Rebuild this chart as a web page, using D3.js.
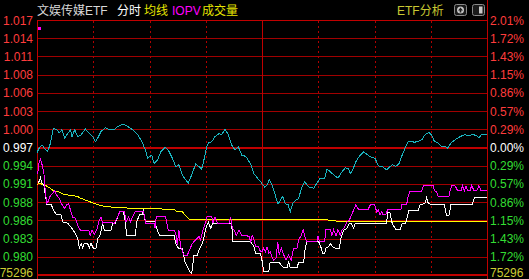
<!DOCTYPE html>
<html>
<head>
<meta charset="utf-8">
<script src="https://cdn.jsdelivr.net/npm/d3@7"></script>
<style>
  body { margin: 0; background: #000; }
  svg { display: block; }
</style>
</head>
<body>
<div id="chart"></div>
<script>
// previous close and the +/- range shown on the right axis
var prevClose = 0.997;
var maxPct = 2.01;
var volumeLabel = "75296";

var priceLabels = ["1.017", "1.014", "1.011", "1.008", "1.006", "1.003", "1.000",
                   "0.997", "0.994", "0.991", "0.988", "0.986", "0.983", "0.980"];
var pctLabels = ["2.01%", "1.72%", "1.43%", "1.15%", "0.86%", "0.57%", "0.29%",
                 "0.00%", "0.29%", "0.57%", "0.86%", "1.15%", "1.43%", "1.72%"];

// [minute, value] - minute 0..240 of the trading day
var refLine = [[0,0.9962],[1.2,0.9969],[2.7,0.9974],[3.9,0.9969],[5.7,0.9964],[6.9,0.9974],[8.7,1.0000],[10.5,0.9998],[11.9,0.9993],[13.3,0.9998],[14.8,0.9985],[16.4,0.9992],[17.8,0.9998],[18.7,0.9987],[20.1,0.9998],[21.7,0.9987],[23.5,0.9990],[25.8,0.9999],[27.9,0.9992],[29.7,0.9987],[31.1,0.9979],[32.4,0.9985],[34.1,0.9995],[36.4,1.0001],[38.6,0.9998],[41.2,0.9998],[43,1.0003],[46,1.0007],[48.4,1.0003],[51,0.9998],[53.7,0.9990],[56,0.9979],[57.8,0.9966],[59,0.9953],[61.2,0.9958],[62.4,0.9945],[64.2,0.9950],[66,0.9963],[68.3,0.9970],[70,0.9966],[72.2,0.9953],[74,0.9940],[75.7,0.9943],[77.5,0.9927],[79.3,0.9919],[80.7,0.9914],[82.5,0.9927],[84.6,0.9944],[86.4,0.9940],[87.8,0.9936],[89,0.9950],[90.3,0.9969],[91.4,0.9977],[93.2,0.9979],[94.9,0.9987],[97.1,0.9992],[98.5,0.9990],[100.3,0.9999],[102,0.9990],[103.8,0.9974],[105.6,0.9966],[107.4,0.9971],[109.2,0.9958],[111.3,0.9956],[112.7,0.9950],[114,0.9943],[115.7,0.9929],[117.5,0.9922],[119.3,0.9916],[120.5,0.9911],[121.4,0.9908],[122.7,0.9911],[123.9,0.9919],[125.3,0.9911],[127.1,0.9895],[128.5,0.9881],[129.8,0.9887],[131,0.9893],[132.4,0.9882],[133.9,0.9880],[135.1,0.9869],[136.4,0.9882],[137.8,0.9887],[139.6,0.9890],[141,0.9906],[142.8,0.9916],[144.9,0.9908],[147.6,0.9906],[149.3,0.9914],[151.1,0.9922],[153.4,0.9922],[154.7,0.9936],[156.4,0.9932],[158.2,0.9927],[160.5,0.9922],[162.7,0.9932],[164.4,0.9938],[166.2,0.9937],[167.1,0.9929],[168.4,0.9935],[170.1,0.9948],[171.9,0.9956],[174.2,0.9963],[176.5,0.9958],[178.7,0.9954],[180.3,0.9953],[182,0.9941],[184.2,0.9940],[186.5,0.9935],[188.3,0.9940],[189.5,0.9943],[191.3,0.9940],[193.1,0.9945],[194.5,0.9956],[196.3,0.9969],[198,0.9979],[199.8,0.9980],[201.2,0.9978],[203.4,0.9980],[205.2,0.9982],[206.9,0.9990],[209.1,0.9994],[210.5,0.9989],[211.9,0.9980],[214,0.9977],[215.8,0.9971],[218,0.9971],[219,0.9969],[220.8,0.9977],[222.9,0.9982],[225.6,0.9987],[227.9,0.9990],[230,0.9989],[232.7,0.9990],[234.5,0.9989],[235.7,0.9985],[237.1,0.9991],[239.8,0.9991]];

var iopvLine = [[0.4,0.9929],[1.2,0.9948],[1.8,0.9952],[2.7,0.9943],[3.7,0.9929],[4.4,0.9901],[5.3,0.9882],[6.2,0.9887],[6.9,0.9893],[8.4,0.9898],[9.4,0.9902],[10.5,0.9895],[11.9,0.9890],[13,0.9882],[14.6,0.9874],[15.8,0.9880],[16.9,0.9882],[17.8,0.9872],[19,0.9860],[20.4,0.9859],[21.7,0.9848],[23.1,0.9840],[27.6,0.9840],[28.3,0.9832],[29.3,0.9840],[30.6,0.9834],[31.8,0.9840],[32.9,0.9853],[34.1,0.9861],[35,0.9851],[36.8,0.9853],[41.2,0.9851],[43,0.9861],[44.3,0.9870],[46.6,0.9870],[47.5,0.9853],[48.9,0.9861],[49.8,0.9853],[51,0.9861],[52.4,0.9870],[56.7,0.9870],[58.1,0.9851],[62.4,0.9851],[62.9,0.9843],[63.6,0.9861],[68.6,0.9861],[70,0.9840],[73.1,0.9840],[74,0.9835],[74.8,0.9817],[75.7,0.9840],[76.6,0.9814],[78.4,0.9801],[80.2,0.9801],[81.4,0.9809],[82.8,0.9819],[84.6,0.9825],[86.4,0.9830],[87.3,0.9825],[88.5,0.9840],[90,0.9853],[90.8,0.9862],[93.2,0.9862],[93.9,0.9851],[94.9,0.9861],[96.2,0.9851],[102.4,0.9851],[103.3,0.9861],[104.2,0.9843],[105.1,0.9840],[106.3,0.9832],[107.7,0.9840],[109.2,0.9832],[111.3,0.9832],[113.1,0.9830],[114,0.9822],[114.8,0.9832],[115.7,0.9825],[116.6,0.9814],[118,0.9814],[119.3,0.9806],[120,0.9806],[120.9,0.9812],[121.8,0.9806],[122.7,0.9814],[123.6,0.9804],[124.4,0.9806],[125.3,0.9798],[126.2,0.9793],[127.5,0.9796],[128.4,0.9822],[129.2,0.9801],[130.3,0.9812],[131.6,0.9801],[132.8,0.9793],[134.2,0.9801],[135.6,0.9793],[136.9,0.9812],[138.7,0.9812],[139.6,0.9825],[141,0.9832],[141.9,0.9841],[143.1,0.9827],[144,0.9822],[149.3,0.9822],[149.9,0.9831],[150.6,0.9822],[153.4,0.9822],[154.1,0.9841],[156.4,0.9841],[157.3,0.9832],[158.2,0.9841],[159.5,0.9831],[160.5,0.9841],[161.8,0.9832],[162.7,0.9840],[164.1,0.9845],[165.3,0.9853],[166.6,0.9856],[167.6,0.9863],[168.9,0.9872],[170.1,0.9880],[171.6,0.9872],[176.5,0.9872],[177.8,0.9880],[180.1,0.9880],[180.3,0.9877],[181.2,0.9869],[182,0.9872],[182.9,0.9864],[183.8,0.9869],[184.7,0.9864],[186,0.9864],[187,0.9872],[194.1,0.9872],[194.5,0.9881],[197.2,0.9881],[197.7,0.9890],[198.9,0.9901],[205.2,0.9901],[206,0.9910],[211.4,0.9910],[211.9,0.9902],[213.2,0.9900],[214,0.9893],[219.7,0.9893],[220.3,0.9902],[221.2,0.9910],[222.9,0.9910],[224.4,0.9902],[226.1,0.9902],[227,0.9910],[227.9,0.9902],[228.8,0.9910],[229.7,0.9902],[230.9,0.9902],[231.8,0.9910],[233.1,0.9902],[234.5,0.9902],[235.7,0.9910],[236.8,0.9902],[239.8,0.9902]];

var priceLine = [[0.4,0.9914],[1.2,0.9917],[1.8,0.9923],[2.7,0.9914],[3.7,0.9911],[4.4,0.9895],[5.3,0.9881],[7.5,0.9881],[8.7,0.9872],[10.5,0.9864],[12.8,0.9864],[13.7,0.9853],[16.4,0.9851],[18.1,0.9845],[20.4,0.9835],[21.7,0.9827],[22.6,0.9812],[23.5,0.9819],[24.4,0.9812],[25.2,0.9819],[27,0.9819],[27.9,0.9812],[28.8,0.9819],[30,0.9812],[31.5,0.9812],[32.4,0.9827],[33.6,0.9832],[35,0.9851],[35.9,0.9840],[39.5,0.9840],[40.4,0.9851],[41.8,0.9851],[43,0.9861],[44.3,0.9870],[46,0.9870],[47.1,0.9853],[47.8,0.9832],[52.4,0.9832],[53.2,0.9853],[54.6,0.9864],[56,0.9864],[56.7,0.9870],[57.8,0.9853],[62.9,0.9853],[64.2,0.9840],[65.4,0.9832],[73.1,0.9832],[74,0.9819],[75.4,0.9812],[77.5,0.9812],[78.9,0.9790],[80.2,0.9783],[81.4,0.9775],[82.5,0.9772],[83.7,0.9801],[85.5,0.9801],[86.4,0.9809],[87.3,0.9814],[88.2,0.9819],[89.1,0.9830],[90,0.9843],[91.4,0.9853],[92.6,0.9843],[93.9,0.9851],[103.8,0.9851],[104.5,0.9822],[114,0.9822],[115.7,0.9814],[116.6,0.9804],[119.3,0.9804],[119.8,0.9793],[120,0.9793],[120.9,0.9775],[123.6,0.9775],[124.4,0.9790],[128.9,0.9790],[130.3,0.9785],[131.6,0.9781],[133.3,0.9781],[134.2,0.9790],[135.1,0.9781],[138.7,0.9781],[139.6,0.9790],[142.2,0.9790],[143.1,0.9812],[144,0.9822],[150.2,0.9822],[151.6,0.9812],[152.4,0.9804],[153.4,0.9804],[154.1,0.9812],[155.6,0.9814],[156.4,0.9819],[157.7,0.9814],[159.1,0.9812],[161.2,0.9812],[162.3,0.9830],[163.6,0.9840],[165.3,0.9843],[166.6,0.9851],[167.6,0.9851],[168.9,0.9843],[169.8,0.9851],[186.5,0.9851],[187,0.9869],[188.3,0.9867],[189.2,0.9853],[190,0.9848],[191.3,0.9841],[193.6,0.9841],[194.8,0.9851],[196.6,0.9851],[197.7,0.9864],[198.4,0.9871],[203.4,0.9871],[204.3,0.9880],[206.9,0.9882],[207.8,0.9891],[208.7,0.9882],[209.6,0.9881],[217.2,0.9881],[218,0.9869],[218.5,0.9863],[219.7,0.9863],[220.8,0.9881],[232.2,0.9881],[233.2,0.9891],[239.8,0.9891]];

var avgLine = [[0,0.9911],[1.2,0.9914],[3,0.9912],[4.8,0.9910],[6.6,0.9907],[8.4,0.9903],[10.1,0.9901],[11.9,0.9900],[14.6,0.9896],[17.2,0.9895],[19.9,0.9894],[21.7,0.9893],[23.5,0.9890],[26.1,0.9887],[28.8,0.9884],[31.5,0.9881],[34.1,0.9879],[36.8,0.9877],[42.1,0.9876],[47.5,0.9875],[52.8,0.9874],[73.1,0.9873],[74.3,0.9870],[77.5,0.9869],[78.9,0.9864],[80.2,0.9860],[81.4,0.9857],[149,0.9857],[155.6,0.9856],[160.9,0.9854],[240,0.9853]];

var width = 529, height = 279;
var padL = 37, padR = 487, padT = 20, padB = 275;
var step = prevClose * maxPct / 100 / 7;

var x = d3.scaleLinear().domain([0, 240]).range([padL, padR]);
var y = d3.scaleLinear()
    .domain([prevClose - 7 * step, prevClose + 7 * step])
    .range([padB, padT]);

var svg = d3.select("#chart").append("svg")
    .attr("width", width)
    .attr("height", height)
    .style("background", "#000");

// horizontal grid, k = 7 (top) .. -7 (bottom)
var levels = d3.range(7, -8, -1);
function levelY(k) { return Math.round(y(prevClose + k * step)); }
function isThick(k) { return k === 0 || k === -7; }

svg.selectAll(".hgrid")
    .data(levels)
    .enter().append("line")
    .attr("class", "hgrid")
    .attr("x1", padL)
    .attr("x2", padR)
    .attr("y1", function(k) { return levelY(k) + (isThick(k) ? 0 : 0.5); })
    .attr("y2", function(k) { return levelY(k) + (isThick(k) ? 0 : 0.5); })
    .attr("stroke", function(k) { return (isThick(k) || k === 7) ? "#c00000" : "#a00000"; })
    .attr("stroke-width", function(k) { return isThick(k) ? 2 : 1; })
    .attr("shape-rendering", "crispEdges");

// vertical grid every 30 minutes
svg.selectAll(".vgrid")
    .data(d3.range(30, 240, 30))
    .enter().append("line")
    .attr("class", "vgrid")
    .attr("x1", function(m) { return Math.round(x(m)) + 0.5; })
    .attr("x2", function(m) { return Math.round(x(m)) + 0.5; })
    .attr("y1", padT + 1)
    .attr("y2", padB)
    .attr("stroke", function(m) { return m === 120 ? "#c00000" : "#b00000"; })
    .attr("stroke-dasharray", function(m) { return m === 120 ? null : "2,3"; })
    .attr("shape-rendering", "crispEdges");

// frame
svg.append("line").attr("x1", padL + 0.5).attr("x2", padL + 0.5).attr("y1", padT).attr("y2", height)
    .attr("stroke", "#c00000").attr("shape-rendering", "crispEdges");
svg.append("line").attr("x1", padR + 0.5).attr("x2", padR + 0.5).attr("y1", 0).attr("y2", height)
    .attr("stroke", "#c00000").attr("shape-rendering", "crispEdges");

// series
var line = d3.line()
    .x(function(d) { return x(d[0]); })
    .y(function(d) { return y(d[1]); });

var series = [
    { data: avgLine, color: "#ffff00" },
    { data: refLine, color: "#1ab4bf" },
    { data: priceLine, color: "#ffffff" },
    { data: iopvLine, color: "#ff00ff" }
];
svg.selectAll(".series")
    .data(series)
    .enter().append("path")
    .attr("class", "series")
    .attr("d", function(s) { return line(s.data); })
    .attr("fill", "none")
    .attr("stroke", function(s) { return s.color; })
    .attr("stroke-width", 1)
    .attr("shape-rendering", "crispEdges");

// little marker in the top-left corner
svg.append("rect").attr("x", 38).attr("y", 27).attr("width", 3).attr("height", 3).attr("fill", "#ff00ff");

// axis labels
var font = "'Liberation Sans', Arial, sans-serif";
function labelColor(i) {
    if (i < 7) return "#ff3c3c";
    if (i === 7) return "#ffffff";
    return "#33dd33";
}
svg.selectAll(".plabel")
    .data(priceLabels)
    .enter().append("text")
    .attr("class", "plabel")
    .attr("x", 33)
    .attr("y", function(d, i) { return y(prevClose + (7 - i) * step) + 4.5; })
    .attr("text-anchor", "end")
    .attr("font-family", font)
    .attr("font-size", 12)
    .attr("fill", function(d, i) { return labelColor(i); })
    .text(function(d) { return d; });

svg.selectAll(".rlabel")
    .data(pctLabels)
    .enter().append("text")
    .attr("class", "rlabel")
    .attr("x", 490)
    .attr("y", function(d, i) { return y(prevClose + (7 - i) * step) + 4.5; })
    .attr("font-family", font)
    .attr("font-size", 12)
    .attr("fill", function(d, i) { return labelColor(i); })
    .text(function(d) { return d; });

svg.append("text").attr("x", 33).attr("y", 277).attr("text-anchor", "end")
    .attr("font-family", font).attr("font-size", 12).attr("fill", "#cccc33").text(volumeLabel);
svg.append("text").attr("x", 490).attr("y", 277)
    .attr("font-family", font).attr("font-size", 12).attr("fill", "#cccc33").text(volumeLabel);

// header
var cjk = "'Liberation Sans', 'Noto Sans CJK SC', sans-serif";
var header = [
    { text: "文娱传媒ETF", x: 37, color: "#d8d8d8" },
    { text: "分时", x: 117, color: "#ffffff" },
    { text: "均线", x: 144, color: "#e6e600" },
    { text: "IOPV", x: 172, color: "#ff00ff" },
    { text: "成交量", x: 202, color: "#e6e600" },
    { text: "ETF分析", x: 397, color: "#c8c832" }
];
svg.selectAll(".head")
    .data(header)
    .enter().append("text")
    .attr("class", "head")
    .attr("x", function(d) { return d.x; })
    .attr("y", 15)
    .attr("font-family", cjk)
    .attr("font-size", 12)
    .attr("fill", function(d) { return d.color; })
    .text(function(d) { return d.text; });

// two small buttons at top right
var b1 = svg.append("g").attr("transform", "translate(454,4)");
b1.append("rect").attr("x", 0.5).attr("y", 0.5).attr("width", 12).attr("height", 11).attr("rx", 2)
    .attr("fill", "#1a1a1a").attr("stroke", "#8a8a8a");
b1.append("circle").attr("cx", 6.5).attr("cy", 6).attr("r", 3.5).attr("fill", "#c8c8c8");
b1.append("path").attr("d", "M6.5,3.5 L9,6.5 L7.3,6.5 L7.3,8.5 L5.7,8.5 L5.7,6.5 L4,6.5 Z").attr("fill", "#202020");

var b2 = svg.append("g").attr("transform", "translate(472,4)");
b2.append("rect").attr("x", 0.5).attr("y", 0.5).attr("width", 12).attr("height", 11).attr("rx", 2)
    .attr("fill", "#1a1a1a").attr("stroke", "#8a8a8a");
b2.append("rect").attr("x", 7).attr("y", 2.5).attr("width", 3.5).attr("height", 7).attr("fill", "#c8c8c8");
</script>
</body>
</html>
